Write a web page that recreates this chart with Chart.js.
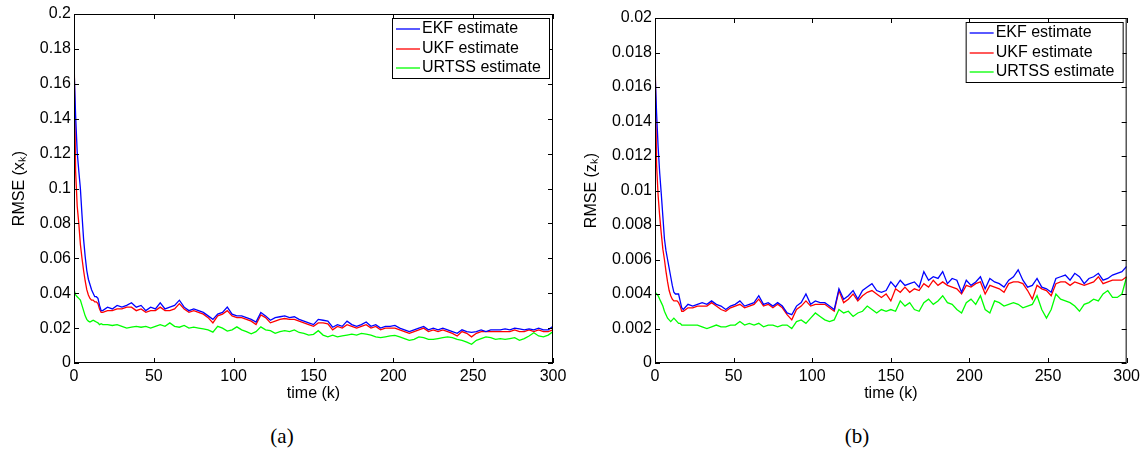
<!DOCTYPE html>
<html>
<head>
<meta charset="utf-8">
<script src="https://cdn.jsdelivr.net/npm/chart.js@4/dist/chart.umd.min.js"></script>
<style>
  body { margin: 0; background: #fff; }
  #wrap { position: relative; width: 1144px; height: 450px; }
  .panel { position: absolute; top: 0; width: 572px; height: 410px; }
  .cap { position: absolute; top: 426px; transform: translateX(-50%); font: 21px "Liberation Serif", serif; line-height: 1; color: #000; }
</style>
</head>
<body>
<div id="wrap">
  <div class="panel" style="left:0"><canvas id="chartA"></canvas></div>
  <div class="panel" style="left:572px"><canvas id="chartB"></canvas></div>
  <div class="cap" style="left:282px">(a)</div>
  <div class="cap" style="left:857px">(b)</div>
</div>
<script>
// time steps (k), dense at the start, then every 3 steps
const kValues = [0,1,2,3,4,5,6,7,8,9,10,11,12,13,14,15,16,17,18,
  21,24,27,30,33,36,39,42,45,48,51,54,57,60,63,66,69,72,75,78,
  81,84,87,90,93,96,99,102,105,108,111,114,117,120,123,126,129,132,135,138,
  141,144,147,150,153,156,159,162,165,168,171,174,177,180,183,186,189,192,195,198,
  201,204,207,210,213,216,219,222,225,228,231,234,237,240,243,246,249,252,255,258,
  261,264,267,270,273,276,279,282,285,288,291,294,297,300];

const seriesNames = ['EKF estimate', 'UKF estimate', 'URTSS estimate'];

// (a) RMSE of x_k
const ekfX = [0.170,0.142,0.121,0.110,0.100,0.085,0.071,0.061,0.053,0.048,0.045,0.042,0.040,0.038,0.038,0.037,0.033,0.030,0.030,
  0.032,0.031,0.033,0.032,0.033,0.0345,0.032,0.033,0.030,0.032,
  0.031,0.0345,0.031,0.032,0.033,0.036,0.032,0.030,0.031,0.030,
  0.029,0.027,0.025,0.028,0.029,0.032,0.028,0.027,0.027,0.026,
  0.025,0.0235,0.029,0.027,0.0245,0.026,0.0265,0.027,0.026,0.0265,
  0.025,0.024,0.023,0.022,0.025,0.0245,0.024,0.0205,0.022,0.021,
  0.024,0.022,0.021,0.022,0.0235,0.021,0.022,0.020,0.021,0.021,
  0.0215,0.020,0.019,0.018,0.019,0.020,0.021,0.019,0.020,0.019,
  0.020,0.019,0.018,0.017,0.019,0.018,0.0175,0.018,0.019,0.018,
  0.019,0.019,0.019,0.0195,0.019,0.020,0.0195,0.019,0.0195,0.019,
  0.020,0.019,0.019,0.021];
const ukfX = [0.182,0.110,0.090,0.080,0.068,0.060,0.053,0.047,0.042,0.039,0.037,0.036,0.036,0.035,0.035,0.034,0.031,0.029,0.029,
  0.030,0.030,0.031,0.031,0.032,0.032,0.030,0.031,0.029,0.030,
  0.030,0.032,0.030,0.030,0.031,0.034,0.031,0.029,0.030,0.029,
  0.028,0.026,0.023,0.027,0.028,0.030,0.027,0.026,0.026,0.025,
  0.024,0.022,0.0275,0.026,0.023,0.024,0.025,0.0255,0.025,0.025,
  0.024,0.023,0.022,0.021,0.023,0.023,0.0225,0.019,0.021,0.020,
  0.022,0.021,0.020,0.021,0.022,0.020,0.021,0.019,0.020,0.020,
  0.020,0.019,0.018,0.017,0.018,0.019,0.020,0.018,0.019,0.018,
  0.019,0.018,0.017,0.0155,0.018,0.017,0.015,0.017,0.018,0.018,
  0.018,0.018,0.018,0.018,0.018,0.019,0.018,0.018,0.019,0.018,
  0.019,0.018,0.018,0.019];
const urtssX = [0.042,0.039,0.038,0.037,0.036,0.033,0.030,0.027,0.025,0.024,0.0235,0.024,0.0245,0.024,0.0235,0.023,0.022,0.0225,0.022,
  0.022,0.0215,0.022,0.021,0.020,0.0205,0.021,0.0205,0.021,0.020,
  0.021,0.022,0.021,0.023,0.021,0.0205,0.0215,0.020,0.0205,0.020,
  0.0195,0.019,0.0177,0.021,0.020,0.0183,0.019,0.0207,0.019,0.018,
  0.0167,0.018,0.0207,0.019,0.0185,0.017,0.018,0.0185,0.018,0.019,
  0.0175,0.017,0.016,0.0164,0.0185,0.016,0.015,0.016,0.015,0.0155,
  0.016,0.0165,0.016,0.017,0.0165,0.016,0.015,0.0145,0.015,0.0155,
  0.0158,0.015,0.014,0.013,0.0135,0.015,0.0145,0.0135,0.0135,0.014,
  0.0145,0.015,0.0145,0.0135,0.013,0.012,0.0107,0.013,0.014,0.015,
  0.0145,0.0135,0.014,0.0135,0.014,0.0145,0.013,0.014,0.0155,0.0173,
  0.0155,0.015,0.016,0.018];

// (b) RMSE of z_k
const ekfZ = [0.0170,0.0145,0.0125,0.0110,0.0098,0.0085,0.0072,0.0065,0.0060,0.0055,0.0050,0.0045,0.0041,0.0040,0.0040,0.0040,0.0036,0.0032,0.0031,
  0.0034,0.0033,0.0034,0.0035,0.0034,0.0036,0.0034,0.0033,0.0031,0.0033,
  0.0034,0.0036,0.0033,0.0034,0.0035,0.0039,0.0034,0.0035,0.0033,0.0035,
  0.0033,0.0029,0.0028,0.0033,0.0035,0.0040,0.0034,0.0036,0.0035,0.0035,
  0.0033,0.0031,0.0043,0.0037,0.0039,0.0042,0.0037,0.0042,0.0044,0.0046,
  0.0042,0.0041,0.0042,0.0047,0.0044,0.0048,0.0045,0.0046,0.0047,0.0044,
  0.0053,0.0048,0.0050,0.0049,0.0053,0.0046,0.0049,0.0048,0.0041,0.0048,
  0.0045,0.0047,0.0050,0.0043,0.0049,0.0047,0.0046,0.0044,0.0048,0.0050,
  0.0054,0.0048,0.0044,0.0045,0.0049,0.0044,0.0043,0.0041,0.0049,0.0050,
  0.0051,0.0048,0.0052,0.0050,0.0046,0.0049,0.0050,0.0052,0.0048,0.0049,
  0.0051,0.0052,0.0053,0.0056];
const ukfZ = [0.0183,0.0115,0.0097,0.0085,0.0075,0.0066,0.0060,0.0053,0.0047,0.0042,0.0039,0.0037,0.0036,0.0036,0.0036,0.0035,0.0033,0.0030,0.0030,
  0.0032,0.0032,0.0033,0.0033,0.0033,0.0035,0.0033,0.0031,0.0030,0.0032,
  0.0033,0.0034,0.0032,0.0033,0.0034,0.0037,0.0033,0.0034,0.0032,0.0034,
  0.0032,0.0028,0.0025,0.0031,0.0033,0.0036,0.0033,0.0034,0.0034,0.0034,
  0.0032,0.0030,0.0042,0.0035,0.0037,0.0040,0.0036,0.0039,0.0041,0.0042,
  0.0040,0.0038,0.0040,0.0036,0.0043,0.0041,0.0044,0.0041,0.0043,0.0042,
  0.0046,0.0044,0.0048,0.0045,0.0047,0.0045,0.0044,0.0043,0.0040,0.0045,
  0.0044,0.0046,0.0047,0.0040,0.0045,0.0044,0.0043,0.0041,0.0046,0.0047,
  0.0047,0.0046,0.0042,0.0037,0.0045,0.0043,0.0042,0.0039,0.0046,0.0047,
  0.0047,0.0045,0.0047,0.0046,0.0045,0.0046,0.0047,0.0050,0.0046,0.0047,
  0.0048,0.0048,0.0048,0.0050];
const urtssZ = [0.0041,0.0040,0.0039,0.0037,0.0035,0.0033,0.0030,0.0028,0.0026,0.0025,0.0024,0.0025,0.0026,0.0025,0.0024,0.0023,0.0023,0.0022,0.0022,
  0.0022,0.0022,0.0022,0.0021,0.0020,0.0021,0.0022,0.0021,0.0021,0.0022,
  0.0022,0.0024,0.0022,0.0023,0.0022,0.0023,0.0021,0.0022,0.0022,0.0021,
  0.0022,0.0022,0.0020,0.0024,0.0025,0.0023,0.0026,0.0029,0.0027,0.0025,
  0.0024,0.0025,0.0031,0.0029,0.0030,0.0027,0.0029,0.0030,0.0033,0.0031,
  0.0029,0.0031,0.0030,0.0031,0.0030,0.0036,0.0033,0.0035,0.0031,0.0030,
  0.0035,0.0037,0.0034,0.0036,0.0039,0.0035,0.0034,0.0031,0.0029,0.0035,
  0.0037,0.0034,0.0039,0.0031,0.0029,0.0036,0.0035,0.0033,0.0034,0.0035,
  0.0034,0.0032,0.0033,0.0034,0.0039,0.0031,0.0026,0.0031,0.0040,0.0037,
  0.0036,0.0035,0.0033,0.0030,0.0034,0.0035,0.0037,0.0036,0.0040,0.0042,
  0.0038,0.0038,0.0040,0.0050];

const colors = ['#0000ff', '#ff0000', '#00ff00'];

Chart.defaults.font.family = '"Liberation Sans", Arial, sans-serif';
Chart.defaults.font.size = 16;
Chart.defaults.color = '#000';

// matlab style box with inward ticks and a boxed legend in the top right corner
const matlabFrame = {
    id: 'matlabFrame',
    afterDatasetsDraw(chart) {
        const { ctx, chartArea: a, scales: { x, y } } = chart;
        ctx.save();
        ctx.strokeStyle = '#000';
        ctx.lineWidth = 1;
        ctx.strokeRect(a.left + 0.5, a.top + 0.5, a.right - a.left - 1, a.bottom - a.top - 1);
        ctx.beginPath();
        x.ticks.forEach((t) => {
            const px = Math.round(x.getPixelForValue(t.value)) + 0.5;
            ctx.moveTo(px, a.bottom); ctx.lineTo(px, a.bottom - 5);
            ctx.moveTo(px, a.top); ctx.lineTo(px, a.top + 5);
        });
        y.ticks.forEach((t) => {
            const py = Math.round(y.getPixelForValue(t.value)) + 0.5;
            ctx.moveTo(a.left, py); ctx.lineTo(a.left + 5, py);
            ctx.moveTo(a.right, py); ctx.lineTo(a.right - 5, py);
        });
        ctx.stroke();

        // legend
        const w = 157, h = 60;
        const left = a.right - 4 - w, top = a.top + 4;
        ctx.fillStyle = '#fff';
        ctx.fillRect(left, top, w, h);
        ctx.strokeRect(left + 0.5, top + 0.5, w, h);
        ctx.font = '16px "Liberation Sans", Arial, sans-serif';
        ctx.textBaseline = 'middle';
        chart.data.datasets.forEach((ds, i) => {
            const ry = Math.round(top + 11 + i * 19.5);
            ctx.strokeStyle = ds.borderColor;
            ctx.lineWidth = 1.3;
            ctx.beginPath();
            ctx.moveTo(left + 4, ry); ctx.lineTo(left + 28, ry);
            ctx.stroke();
            ctx.fillStyle = '#000';
            ctx.fillText(ds.label, left + 30, ry);
        });
        ctx.restore();
    },
};

function makeChart(id, series, yMax, yStep, yTitle, yWidth, padTop, padRight) {
    new Chart(document.getElementById(id), {
        type: 'line',
        data: {
            datasets: series.map((vals, i) => ({
                label: seriesNames[i],
                data: kValues.map((k, j) => ({ x: k, y: vals[j] })),
                borderColor: colors[i],
                borderWidth: 1.3,
                pointRadius: 0,
                tension: 0,
                fill: false,
            })),
        },
        options: {
            responsive: true,
            maintainAspectRatio: false,
            animation: false,
            layout: { padding: { left: 0, top: padTop, right: padRight, bottom: 0 } },
            scales: {
                x: {
                    type: 'linear',
                    min: 0,
                    max: 300,
                    grid: { display: false, drawTicks: false },
                    border: { display: false },
                    ticks: { stepSize: 50, autoSkip: false, maxRotation: 0, padding: 4 },
                    title: { display: true, text: 'time (k)', padding: { top: 0, bottom: 7 } },
                    afterFit: (s) => { s.height = 47; },
                },
                y: {
                    min: 0,
                    max: yMax,
                    grid: { display: false, drawTicks: false },
                    border: { display: false },
                    ticks: {
                        stepSize: yStep,
                        padding: 3,
                        callback: (v) => String(+v.toFixed(4)),
                    },
                    title: { display: true, text: yTitle, padding: { top: 10, bottom: 0 } },
                    afterFit: (s) => { s.width = yWidth; },
                },
            },
            plugins: {
                legend: { display: false },
                tooltip: { enabled: false },
            },
        },
        plugins: [matlabFrame],
    });
}

makeChart('chartA', [ekfX, ukfX, urtssX], 0.2, 0.02, 'RMSE (x\u2096)', 74, 14, 19);
makeChart('chartB', [ekfZ, ukfZ, urtssZ], 0.02, 0.002, 'RMSE (z\u2096)', 83, 18, 15);
</script>
</body>
</html>
